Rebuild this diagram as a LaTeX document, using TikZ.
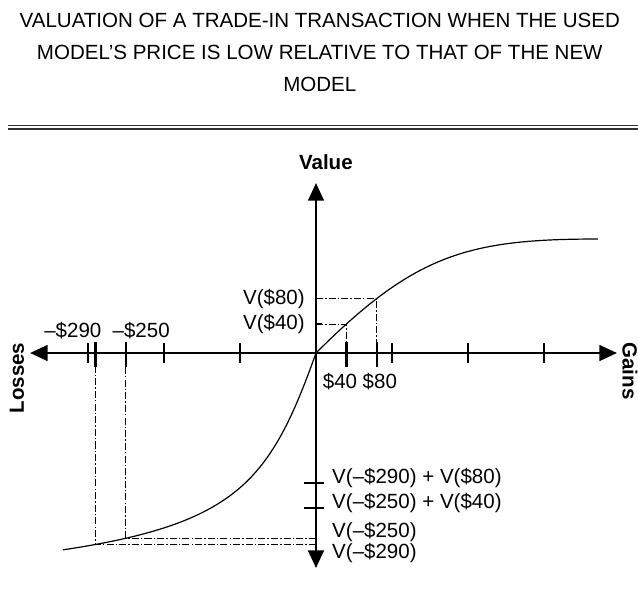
\documentclass[tikz,border=0pt]{standalone}
\usepackage{fontspec}
\setmainfont{Liberation Sans}
\usepackage{tikz}
\usetikzlibrary{positioning}
\usetikzlibrary{arrows.meta}
\usetikzlibrary{calc,intersections}

\begin{document}
\begin{tikzpicture}[x=1.9cm,y=1.9cm,
    every node/.style={inner sep=0pt,font=\fontsize{14.6}{17}\selectfont},
    axis/.style={line width=1.8pt,{Triangle[length=4.4mm,width=3.9mm]}-{Triangle[length=4.4mm,width=3.9mm]}},
    curve/.style={line width=0.85pt},
    guide/.style={line width=0.7pt,dash pattern=on 5pt off 1.5pt on 1pt off 1.5pt},
    tick/.style={line width=0.9pt},
    bigtick/.style={line width=1.8pt},
    axislabel/.style={font=\fontsize{14.6}{17}\selectfont\bfseries}]
	%% frame of the page
	\useasboundingbox (-4.158,-3.158) rectangle (4.237,4.645);

	\def\tk{0.13} % half tick length
	
	% title and double rule
	\node[align=center,font=\fontsize{14.6}{22.7}\selectfont] (title) at (0.05,3.96)
		{VALUATION OF A TRADE-IN TRANSACTION WHEN THE USED\\
		 MODEL'S PRICE IS LOW RELATIVE TO THAT OF THE NEW\\
		 MODEL};
	\draw[line width=0.9pt,black!80] (-4.053,2.993) -- (4.3,2.993);
	\draw[line width=0.9pt,black!80] (-4.053,2.947) -- (4.3,2.947);

	% axes
	\coordinate (O) at (0,0);
	\coordinate (xl) at (-3.763,0);
	\coordinate (xr) at (3.961,0);
	\coordinate (yt) at (0,2.237);
	\coordinate (yb) at (0,-2.829);
	\draw[axis] (xl) -- (xr);
	\draw[axis] (yb) -- (yt);

	\node[axislabel] (value) at (0.13,2.513) {Value};
	\node[axislabel,rotate=90] (losses) at (-3.934,-0.33) {Losses};
	\node[axislabel,rotate=-90] (gains) at (4.13,-0.237) {Gains};

	\foreach \x in {-3,-2,-1,1,2,3}
		\draw[tick] (\x,\tk) -- (\x,-\tk);
	\foreach \x in {-2.9,-2.5,0.4,0.8}
		\draw[bigtick] (\x,0.15) -- (\x,-0.19);

	% value function
	\draw[curve,name path=gain] (O) .. controls (1.3,1.3) and (2,1.5) .. (3.71,1.5);
	\draw[curve,name path=loss] (O) .. controls (-0.6,-1.68) and (-1.03,-2.245) .. (-3.33,-2.59);

	\path[name path=v40] (0.4,0) -- (0.4,2);
	\path[name path=v80] (0.8,0) -- (0.8,2);
	\path[name path=v250] (-2.5,0) -- (-2.5,-3);
	\path[name path=v290] (-2.9,0) -- (-2.9,-3);
	\path[name intersections={of=gain and v40,by=p40}];
	\path[name intersections={of=gain and v80,by=p80}];
	\path[name intersections={of=loss and v250,by=m250}];
	\path[name intersections={of=loss and v290,by=m290}];

	\draw[guide] (O |- p40) -- (p40) -- (p40 |- O);
	\draw[guide] (O |- p80) -- (p80) -- (p80 |- O);
	\draw[guide] (O |- m250) -- (m250) -- (m250 |- O);
	\draw[guide] (O |- m290) -- (m290) -- (m290 |- O);

	% ticks on the value axis
	\draw[tick] (O |- p40) -- ++(0.08,0);
	\draw[tick] (O |- p80) -- ++(0.08,0);
	\coordinate (s1) at (0,-1.71);
	\coordinate (s2) at (0,-2.04);
	\draw[bigtick] ($(s1)+(-0.16,0)$) -- ($(s1)+(0.105,0)$);
	\draw[bigtick] ($(s2)+(-0.16,0)$) -- ($(s2)+(0.105,0)$);

	% labels
	\node[anchor=east] (l80) at ($(O |- p80)+(-0.145,0)$) {V(\$80)};
	\node[anchor=east] (l40) at ($(O |- p40)+(-0.145,0)$) {V(\$40)};
	\node (x290) at (-3.2,0.30) {–\$290};
	\node (x250) at (-2.30,0.30) {–\$250};
	\node (x40) at (0.316,-0.38) {\$40};
	\node (x80) at (0.84,-0.38) {\$80};
	\node[anchor=west] (ls1) at (0.21,-1.645) {V(–\$290) + V(\$80)};
	\node[anchor=west] (ls2) at (0.21,-1.974) {V(–\$250) + V(\$40)};
	\node[anchor=west] (l250) at (0.21,-2.355) {V(–\$250)};
	\node[anchor=west] (l290) at (0.21,-2.632) {V(–\$290)};
\end{tikzpicture}
\end{document}
